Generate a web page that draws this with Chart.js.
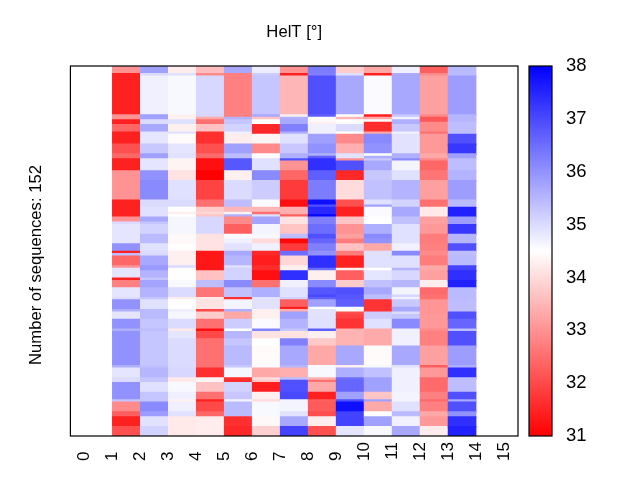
<!DOCTYPE html>
<html><head><meta charset="utf-8">
<style>html,body{margin:0;padding:0;background:#fff;overflow:hidden;width:640px;height:480px}
canvas{position:absolute;top:0}</style>
<script src="https://cdn.jsdelivr.net/npm/chart.js@4"></script></head>
<body><canvas id="heat" width="640" height="480" style="left:0"></canvas>
<canvas id="bar" width="140" height="480" style="left:500px"></canvas>
<script>
const titleText = "HelT [°]";
const yLabel = "Number of sequences: 152";
const rowCount = 152;
const tickLabels = ["0","1","2","3","4","5","6","7","8","9","10","11","12","13","14","15"];
const colorbarTicks = [31,32,33,34,35,36,37,38];
const vMin = 31, vMax = 38;
// each column: [row where the run ends, value]
const col1 = [[3,33],[20,31.44],[22,33],[24,31.44],[27,32.4],[32,31.44],[36,32.1],[38,32.4],[43,31.44],[55,33],[62,31.44],[64,33],[65,35],[73,34.85],[76,36],[77,31.44],[78,35.4],[82,32.4],[83,33],[87,34.85],[88,31.44],[91,32.75],[95,34.85],[96,35],[100,36],[101,35.6],[104,34.85],[108,36],[109,35.6],[123,36],[124,35.6],[128,34.85],[130,35],[137,36],[138,35.3],[142,32.9],[144,32.3],[148,31.44],[152,32.1]];
const col2 = [[3,35.8],[4,35],[20,34.7],[22,35.8],[24,35],[27,35.7],[32,34.85],[36,35.25],[38,35.8],[43,34.85],[47,36],[55,36.1],[58,35],[62,34.93],[64,35.7],[65,35.3],[69,35.1],[73,35.45],[76,34.93],[78,35],[82,35.7],[84,35.9],[87,35.55],[88,35.3],[91,35.75],[95,35.55],[96,35.3],[100,34.93],[104,35.45],[108,35.3],[109,35.4],[123,35.3],[124,35.35],[128,35.5],[130,35.3],[134,34.93],[138,35.3],[142,36.1],[144,35.85],[148,34.9],[152,35.1]];
const col3 = [[3,34.25],[4,34.93],[20,34.6],[22,34.3],[24,34.93],[27,34.3],[28,34.9],[32,34.45],[36,34.85],[38,34.93],[43,34.35],[47,34.1],[55,34.93],[58,35],[60,34.5],[61,34.3],[62,34.5],[69,34.62],[73,34.4],[76,34.47],[82,34.3],[83,35],[88,34.52],[91,34.6],[95,35],[96,34.25],[100,34.5],[101,34.72],[104,34.62],[108,35],[109,34.2],[112,34.85],[124,35],[128,35.05],[130,34.2],[134,34.6],[137,34.72],[138,34.3],[142,34.72],[144,34.9],[152,34.2]];
const col4 = [[3,33.6],[4,32.9],[21,35.05],[22,33.3],[24,32.55],[27,33.65],[32,31.65],[36,32.1],[38,32.45],[43,31.2],[47,31],[55,31.9],[58,32.55],[60,33.8],[61,33.95],[62,33.7],[69,35.05],[76,34.1],[84,31.3],[88,33.65],[91,35.4],[95,32.6],[96,34.2],[100,34.1],[101,32],[104,33.8],[108,32.55],[109,31.2],[112,32],[124,32.55],[128,31.65],[130,34.35],[134,33.65],[137,32.55],[138,31.44],[142,32],[144,32.4],[152,34.25]];
const col5 = [[3,35.7],[21,32.75],[22,35.55],[24,35.3],[27,35.1],[28,34.7],[32,34.25],[36,35.8],[38,35.4],[43,36.8],[47,34.3],[55,35],[58,35.4],[60,33.5],[61,34.35],[62,35.6],[65,32.9],[69,32.3],[71,34.55],[73,34.7],[76,34.9],[78,35.7],[82,35.5],[83,34.93],[88,35.1],[91,36.1],[95,35.35],[96,31.65],[100,34.65],[101,35.6],[104,33.3],[108,35.2],[109,34.5],[112,35.5],[115,35.3],[123,35.45],[124,35.3],[128,34.62],[130,31.65],[134,35.1],[137,35.25],[138,34.65],[144,35.45],[148,31.65],[152,31.55]];
const col6 = [[3,34.75],[4,35.2],[20,35.3],[21,35.7],[22,33.65],[24,34.5],[28,31.55],[32,34.35],[36,32.9],[38,34.45],[43,34.93],[47,36.1],[55,35.2],[58,34.55],[60,33.5],[61,32.55],[62,34.93],[65,35.75],[69,34.65],[71,34.6],[73,34],[76,34.7],[78,31.55],[82,31.4],[84,31.6],[88,31.2],[91,32.55],[95,35.6],[100,34.9],[104,34.3],[108,34.57],[109,36.2],[112,34.1],[115,34.5],[123,34.45],[124,34.57],[128,33.3],[129,34],[130,33.75],[134,31.4],[137,34.3],[138,34],[144,34.6],[148,34.4],[152,33.85]];
const col7 = [[3,33],[4,31.44],[20,33.5],[21,34.3],[22,35.6],[24,35.7],[27,36.25],[28,35.6],[32,34.93],[36,35.25],[38,35.6],[39,36.9],[43,33],[47,32.4],[55,31.8],[58,31.2],[61,33.4],[62,32.3],[65,34.1],[69,33.7],[71,35.4],[73,31.1],[76,31.8],[78,36.5],[82,33.95],[84,34.3],[88,37.35],[91,34.7],[95,34.93],[96,35.1],[99,32.3],[100,31.44],[101,33.4],[104,35.8],[108,35.55],[109,35.3],[112,34.1],[115,36.25],[123,35.7],[124,35.5],[128,33.4],[129,35.4],[134,36.9],[137,37],[142,34.65],[144,34.9],[148,35.7],[152,37.1]];
const col8 = [[3,36.3],[4,36.25],[20,36.9],[21,36.7],[23,34.55],[24,34.3],[28,34.7],[32,35.8],[36,36],[37,35.6],[38,36.7],[43,37.35],[47,36.7],[55,36.3],[57,37.8],[58,36.9],[61,37.45],[62,37.9],[65,36.25],[69,36.5],[71,36.9],[73,36.6],[76,36.25],[78,36],[83,37.35],[84,36.5],[88,34.3],[91,36.1],[94,36.8],[95,37],[96,36.7],[99,35.8],[100,34.5],[104,34.9],[108,34.93],[109,36.7],[112,34.3],[115,33.75],[123,33.3],[124,34.55],[128,34.6],[129,33.4],[130,32.55],[134,33.3],[137,31.44],[138,32.3],[142,32.25],[144,32.05],[148,34.25],[152,32.1]];
const col9 = [[3,33.8],[4,34.93],[20,35.7],[21,34.5],[22,33.5],[23,34.5],[24,34.55],[27,35],[28,34.5],[32,32.9],[36,33.4],[38,34.9],[39,33],[43,36.9],[47,31.55],[55,34],[58,32.1],[62,31.44],[65,33.7],[69,33],[71,33.2],[73,32.7],[76,33.65],[78,32.7],[83,31.44],[84,34.3],[88,32.3],[91,33.8],[94,36.9],[96,36.8],[99,36.7],[101,34.5],[102,32.05],[104,31.9],[108,31.7],[115,33.45],[123,35.7],[124,34.3],[128,35.6],[129,36.5],[134,36.6],[137,35.8],[138,36.9],[142,37.8],[148,37.1],[152,34.85]];
const col10 = [[3,33.3],[4,31.44],[20,34.55],[21,31.44],[22,33.3],[23,34.4],[27,31.6],[28,33.3],[32,36.1],[36,36],[37,34.5],[38,35.6],[39,35.25],[43,35.7],[47,35.25],[55,35.35],[57,34.93],[58,35.8],[62,34.55],[65,34.5],[69,35.6],[71,36.1],[73,36],[76,33.3],[83,34.93],[84,34.5],[88,34.85],[91,35.35],[94,35.7],[96,35.4],[101,31.7],[104,35.2],[108,34.93],[115,33.33],[123,34.45],[124,34.6],[128,35.35],[134,35.8],[137,33.7],[138,35.8],[142,33.3],[144,34.5],[148,35.8],[152,34.6]];
const col11 = [[3,34.7],[4,35.65],[20,35.7],[21,35.3],[22,34.7],[24,35.6],[27,35.25],[28,34.7],[36,34.9],[38,35.6],[39,36.1],[43,34.65],[47,34.93],[55,35.55],[58,35.1],[62,35.7],[65,35.35],[73,34.93],[76,34.7],[78,36.1],[83,34.93],[84,35.55],[88,35.05],[91,35.5],[94,34.65],[95,35.05],[96,34.7],[99,35.25],[101,35.7],[102,35],[104,35.3],[108,36.1],[115,34.7],[123,35.7],[124,34.93],[134,34.7],[138,34.65],[142,34.93],[144,35.45],[148,34.7],[152,35.7]];
const col12 = [[3,32.3],[4,32.9],[20,33.2],[21,32.9],[23,32.2],[27,32.9],[28,32.55],[36,33.1],[38,33.3],[39,32.9],[43,32.4],[47,32.6],[55,33.2],[58,32.55],[62,34.2],[65,33.2],[69,33.1],[73,32.7],[76,32.75],[78,32.9],[82,32.7],[84,33.3],[88,33.2],[91,34.25],[94,32.45],[96,32.55],[102,33.05],[108,33.1],[109,32.9],[115,32.75],[123,33.2],[124,32.3],[128,33.1],[134,32.45],[137,32.75],[138,32.45],[142,32.75],[144,33.3],[148,33.1],[152,34.25]];
const col13 = [[4,35.45],[20,35.85],[23,35.5],[28,35.4],[32,36.9],[36,37.25],[38,35.8],[43,35.4],[47,35.55],[55,35.85],[58,35.45],[62,37.55],[65,35.85],[69,37.25],[73,35.5],[76,36.9],[78,35.4],[82,35.45],[84,37.1],[88,37.35],[91,37.55],[96,35.45],[101,35.4],[104,36.9],[108,36.6],[109,35.4],[115,36.9],[123,35.85],[124,35.6],[128,37.35],[134,35.4],[137,36.9],[138,35.7],[142,36.9],[144,36],[148,37.35],[152,37.55]];
const columns = [col1,col2,col3,col4,col5,col6,col7,col8,col9,col10,col11,col12,col13];

function bwr(v){
  const t = Math.max(0, Math.min(1, (v - vMin) / (vMax - vMin)));
  let r, g, b;
  if (t < 0.5) { r = 255; g = b = Math.round(510 * t); }
  else { b = 255; r = g = Math.round(510 * (1 - t)); }
  return `rgb(${r},${g},${b})`;
}
const cells = [], cellColors = [];
columns.forEach((col, k) => {
  let start = 0;
  col.forEach(([end, v]) => {
    cells.push({x: k + 1.5, y: [start, Math.min(end + 0.4, rowCount)]});
    cellColors.push(bwr(v));
    start = end;
  });
});
const frame = {id:'frame', afterDraw(c){
  const a = c.chartArea, g = c.ctx;
  g.save(); g.strokeStyle = '#000'; g.lineWidth = 1.2;
  g.strokeRect(a.left, a.top, a.right - a.left, a.bottom - a.top);
  g.restore();
}};
const FONT = '"Liberation Sans"';
new Chart(document.getElementById('heat'), {
  type:'bar',
  data:{datasets:[{data:cells, backgroundColor:cellColors, borderWidth:0, barPercentage:1, categoryPercentage:1}]},
  options:{
    responsive:false, animation:false, devicePixelRatio:1,
    layout:{padding:{left:0,top:0,right:122,bottom:-50}},
    plugins:{
      legend:{display:false}, tooltip:{enabled:false},
      title:{display:true, text:titleText, position:'top', fullSize:false, color:'#000',
        font:{family:FONT,size:16.67,weight:'normal'}, padding:{top:22,bottom:24}},
      subtitle:{display:true, text:yLabel, position:'left', color:'#000',
        font:{family:FONT,size:16.67,weight:'normal'}, padding:{top:26,bottom:0}}
    },
    scales:{
      x:{type:'linear', offset:false, min:-0.5, max:15.5, grid:{display:false, drawTicks:false}, border:{display:false},
        afterFit(s){s.height = 94;},
        afterBuildTicks(s){s.ticks = tickLabels.map((_,i)=>({value:i}));},
        ticks:{autoSkip:false, minRotation:90, maxRotation:90, padding:6, color:'#000',
          font:{family:FONT,size:17},
          callback:v=>{const l=tickLabels[v]; return l===undefined?'':(l.length<2?l+'\u2007':l);}}},
      y:{type:'linear', reverse:true, min:0, max:rowCount, grid:{display:false, drawTicks:false}, border:{display:false},
        afterFit(s){s.width = 24.4;}, ticks:{display:false}}
    }
  },
  plugins:[frame]
});
new Chart(document.getElementById('bar'), {
  type:'bar',
  data:{labels:['HelT'], datasets:[{data:[[vMin,vMax]], borderWidth:0, barPercentage:1, categoryPercentage:1,
    backgroundColor(ctx){
      const c = ctx.chart, s = c.scales.y;
      if(!s || !c.chartArea) return '#fff';
      const g = c.ctx.createLinearGradient(0, s.getPixelForValue(vMax), 0, s.getPixelForValue(vMin));
      colorbarTicks.forEach(v=>{ g.addColorStop((vMax-v)/(vMax-vMin), bwr(v)); });
      g.addColorStop(0.5, bwr((vMin+vMax)/2));
      return g;
    }}]},
  options:{
    responsive:false, animation:false, devicePixelRatio:1,
    layout:{padding:{left:29,top:66,right:0,bottom:44}},
    plugins:{legend:{display:false}, tooltip:{enabled:false}},
    scales:{
      x:{display:false},
      y:{position:'right', min:vMin, max:vMax, grid:{display:false, drawTicks:false}, border:{display:false},
        afterFit(s){s.width = 88;},
        afterBuildTicks(s){s.ticks = colorbarTicks.map(v=>({value:v}));},
        ticks:{padding:14, color:'#000', font:{family:FONT,size:18.5}}}
    }
  },
  plugins:[frame]
});
</script></body></html>
